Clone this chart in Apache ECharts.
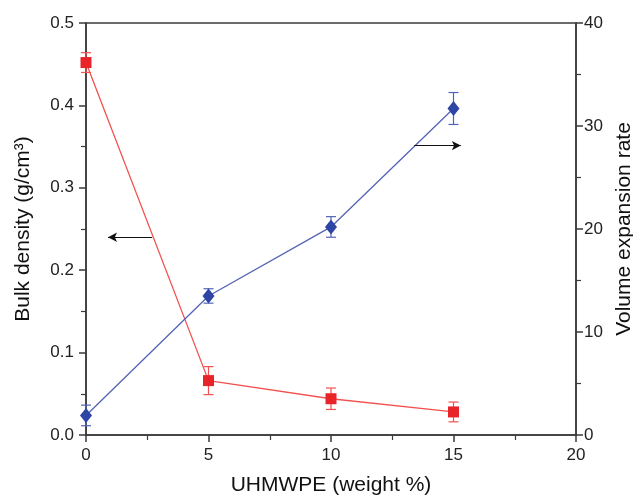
<!DOCTYPE html>
<html>
<head>
<meta charset="utf-8">
<script src="https://cdn.jsdelivr.net/npm/echarts@6/dist/echarts.min.js"></script>
<style>
  html, body { margin: 0; padding: 0; background: #fff; }
  #chart { width: 633px; height: 496px; }
</style>
</head>
<body>
<div id="chart"></div>
<script>
// DATA
const uhmwpe = [0, 5, 10, 15];
const bulkDensity = [0.452, 0.066, 0.044, 0.028];
const bulkDensityErr = [0.012, 0.017, 0.013, 0.012];
const expansionRate = [1.9, 13.5, 20.2, 31.7];
const expansionRateErr = [1.0, 0.7, 1.0, 1.55];

// arrows pointing to each axis: [x from, x to, y]
const densityArrow = [2.7, 0.9, 0.24];
const expansionArrow = [13.4, 15.3, 28.1];

const chartPlaceholder = document.querySelector("#chart");
const chart = echarts.init(chartPlaceholder);

const axisColor = '#3a3a3a';
const redMark = '#e8232a';
const redLine = '#f2524f';
const blueMark = '#2e45a6';
const blueLine = '#5464b4';
const font = 'Liberation Sans, Arial, sans-serif';

function errorBarItem(color) {
    return function (params, api) {
        const x = api.value(0);
        const lo = api.coord([x, api.value(1) - api.value(2)]);
        const hi = api.coord([x, api.value(1) + api.value(2)]);
        const w = 5;
        const style = { stroke: color, lineWidth: 1.2 };
        return {
            type: 'group',
            children: [
                { type: 'line', shape: { x1: lo[0], y1: lo[1], x2: hi[0], y2: hi[1] }, style: style },
                { type: 'line', shape: { x1: lo[0] - w, y1: lo[1], x2: lo[0] + w, y2: lo[1] }, style: style },
                { type: 'line', shape: { x1: hi[0] - w, y1: hi[1], x2: hi[0] + w, y2: hi[1] }, style: style }
            ]
        };
    };
}

const option = {
    backgroundColor: '#fff',
    animation: false,
    grid: {
        left: 86,
        right: 57,
        top: 23,
        bottom: 61,
        outerBoundsMode: 'none',
        containLabel: false,
        show: true,
        borderColor: axisColor,
        borderWidth: 1.5
    },
    xAxis: {
        type: 'value',
        min: 0,
        max: 20,
        interval: 5,
        name: 'UHMWPE (weight %)',
        nameLocation: 'middle',
        nameGap: 40,
        nameTextStyle: { fontFamily: font, fontSize: 21, color: '#111' },
        axisLine: { onZero: false, lineStyle: { color: axisColor, width: 1.5 } },
        axisTick: { length: 7, lineStyle: { color: axisColor, width: 1.5 } },
        minorTick: { show: true, splitNumber: 2, length: 5, lineStyle: { color: axisColor, width: 1.2 } },
        axisLabel: { fontFamily: font, fontSize: 17, color: '#222', margin: 12 },
        splitLine: { show: false }
    },
    yAxis: [
        {
            type: 'value',
            min: 0,
            max: 0.5,
            interval: 0.1,
            name: 'Bulk density (g/cm³)',
            nameLocation: 'middle',
            nameGap: 52,
            nameTextStyle: { fontFamily: font, fontSize: 21, color: '#111' },
            axisLine: { show: true, onZero: false, lineStyle: { color: axisColor, width: 1.5 } },
            axisTick: { show: true, length: 7, lineStyle: { color: axisColor, width: 1.5 } },
            minorTick: { show: true, splitNumber: 2, length: 5, lineStyle: { color: axisColor, width: 1.2 } },
            axisLabel: { fontFamily: font, fontSize: 17, color: '#222', margin: 12, formatter: v => v.toFixed(1) },
            splitLine: { show: false }
        },
        {
            type: 'value',
            min: 0,
            max: 40,
            interval: 10,
            position: 'right',
            name: 'Volume expansion rate',
            nameLocation: 'middle',
            nameGap: 36,
            nameRotate: 90,
            nameTextStyle: { fontFamily: font, fontSize: 21, color: '#111' },
            axisLine: { show: true, onZero: false, lineStyle: { color: axisColor, width: 1.5 } },
            axisTick: { show: true, length: 7, lineStyle: { color: axisColor, width: 1.5 } },
            minorTick: { show: true, splitNumber: 2, length: 5, lineStyle: { color: axisColor, width: 1.2 } },
            axisLabel: { fontFamily: font, fontSize: 17, color: '#222', margin: 8 },
            splitLine: { show: false }
        }
    ],
    series: [
        {
            name: 'Bulk density',
            type: 'line',
            yAxisIndex: 0,
            data: uhmwpe.map((x, i) => [x, bulkDensity[i]]),
            symbol: 'rect',
            symbolSize: 11,
            itemStyle: { color: redMark },
            lineStyle: { color: redLine, width: 1.3 },
            z: 3,
            markLine: {
                silent: true,
                symbol: ['none', 'arrow'],
                symbolSize: [7, 9],
                label: { show: false },
                lineStyle: { color: '#111', width: 1.2, type: 'solid' },
                data: [[
                    { coord: [densityArrow[0], densityArrow[2]] },
                    { coord: [densityArrow[1], densityArrow[2]] }
                ]]
            }
        },
        {
            name: 'Bulk density error',
            type: 'custom',
            yAxisIndex: 0,
            data: uhmwpe.map((x, i) => [x, bulkDensity[i], bulkDensityErr[i]]),
            renderItem: errorBarItem(redLine),
            z: 2
        },
        {
            name: 'Volume expansion rate',
            type: 'line',
            yAxisIndex: 1,
            data: uhmwpe.map((x, i) => [x, expansionRate[i]]),
            symbol: 'diamond',
            symbolSize: [12, 15],
            itemStyle: { color: blueMark },
            lineStyle: { color: blueLine, width: 1.3 },
            z: 3,
            markLine: {
                silent: true,
                symbol: ['none', 'arrow'],
                symbolSize: [7, 9],
                label: { show: false },
                lineStyle: { color: '#111', width: 1.2, type: 'solid' },
                data: [[
                    { coord: [expansionArrow[0], expansionArrow[2]] },
                    { coord: [expansionArrow[1], expansionArrow[2]] }
                ]]
            }
        },
        {
            name: 'Volume expansion rate error',
            type: 'custom',
            yAxisIndex: 1,
            data: uhmwpe.map((x, i) => [x, expansionRate[i], expansionRateErr[i]]),
            renderItem: errorBarItem(blueLine),
            z: 2
        }
    ]
};

chart.setOption(option);
</script>
</body>
</html>
